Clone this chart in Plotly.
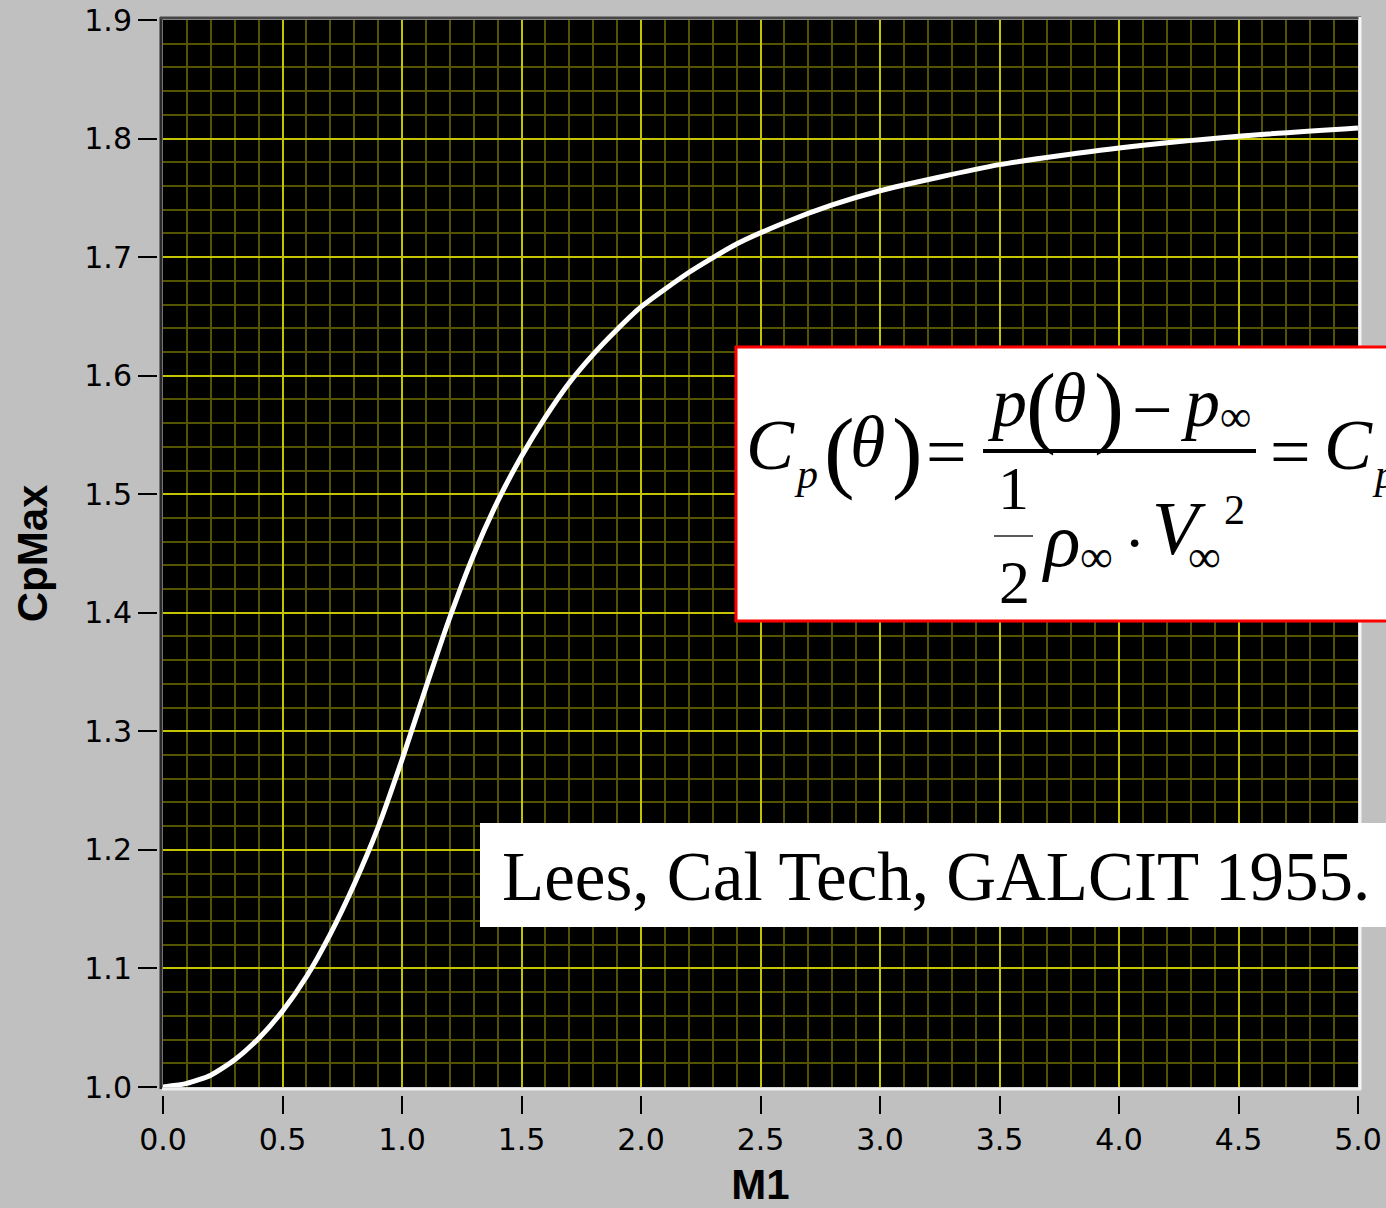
import plotly.graph_objects as go

# Maximum pressure coefficient (stagnation point) vs free-stream Mach number
M1 = [0.0, 0.1, 0.2, 0.3, 0.4, 0.5, 0.6, 0.7, 0.8, 0.9, 1.0,
      1.1, 1.2, 1.3, 1.4, 1.5, 1.6, 1.7, 1.8, 1.9, 2.0,
      2.2, 2.4, 2.6, 2.8, 3.0, 3.5, 4.0, 4.5, 5.0]
CpMax = [1.000, 1.003, 1.010, 1.023, 1.041, 1.064, 1.093, 1.129, 1.171, 1.219, 1.276,
         1.337, 1.396, 1.449, 1.494, 1.532, 1.565, 1.594, 1.618, 1.639, 1.658,
         1.687, 1.711, 1.729, 1.744, 1.756, 1.778, 1.792, 1.802, 1.809]

x_ticks = [0.0, 0.5, 1.0, 1.5, 2.0, 2.5, 3.0, 3.5, 4.0, 4.5, 5.0]
y_ticks = [1.0, 1.1, 1.2, 1.3, 1.4, 1.5, 1.6, 1.7, 1.8, 1.9]
x_title = "M1"
y_title = "CpMax"
credit = "Lees, Cal Tech, GALCIT 1955."

W, H = 1386, 1208


def px(x):
    return x / W


def py(y):
    return 1 - y / H


SERIF = "Liberation Serif, Times New Roman, serif"
MAJOR = "rgb(196,196,0)"
MINOR = "rgb(84,84,0)"

fig = go.Figure()
fig.add_trace(go.Scatter(
    x=M1, y=CpMax, mode="lines",
    line=dict(color="white", width=5, shape="spline", smoothing=0.6),
    hoverinfo="skip", showlegend=False,
))

tick_font = dict(family="DejaVu Sans", size=30, color="black")
title_font = dict(family="Liberation Sans, Arial", size=42, color="black")

fig.update_layout(
    width=W, height=H,
    margin=dict(l=0, r=0, t=0, b=0),
    paper_bgcolor="rgb(192,192,192)",
    plot_bgcolor="black",
    showlegend=False,
    xaxis=dict(
        domain=[px(163), px(1358)],
        range=[0, 5], tickvals=x_ticks, ticktext=[f"{v:.1f}" for v in x_ticks],
        anchor="free", position=py(1095),
        ticks="outside", ticklen=18, tickwidth=2, tickcolor="black",
        tickfont=tick_font, showline=False, zeroline=False,
        showgrid=True, gridcolor=MAJOR, gridwidth=2,
        minor=dict(dtick=0.1, showgrid=True, gridcolor=MINOR, gridwidth=2, ticks=""),
        title=dict(text=f"<b>{x_title}</b>", font=title_font, standoff=18),
        automargin=False, fixedrange=True,
    ),
    yaxis=dict(
        domain=[py(1087), py(20)],
        range=[1.0, 1.9], tickvals=y_ticks, ticktext=[f"{v:.1f}" for v in y_ticks],
        anchor="free", position=px(157),
        ticks="outside", ticklen=19, tickwidth=2, tickcolor="black",
        tickfont=tick_font, showline=False, zeroline=False,
        showgrid=True, gridcolor=MAJOR, gridwidth=2,
        minor=dict(dtick=0.02, showgrid=True, gridcolor=MINOR, gridwidth=2, ticks=""),
        title=dict(text=f"<b>{y_title}</b>", font=title_font, standoff=22),
        automargin=False, fixedrange=True,
    ),
)

shapes = []
# inset frame: dark top/left, light bottom/right
shapes.append(dict(type="line", xref="paper", yref="paper", x0=px(161), x1=px(161),
                   y0=py(17), y1=py(1089), line=dict(color="rgb(40,40,40)", width=3)))
shapes.append(dict(type="line", xref="paper", yref="paper", x0=px(160), x1=px(1361),
                   y0=py(18), y1=py(18), line=dict(color="rgb(70,70,70)", width=3)))
shapes.append(dict(type="line", xref="paper", yref="paper", x0=px(1360), x1=px(1360),
                   y0=py(17), y1=py(1090), line=dict(color="rgb(245,245,245)", width=3)))
shapes.append(dict(type="line", xref="paper", yref="paper", x0=px(162), x1=px(1361),
                   y0=py(1089), y1=py(1089), line=dict(color="rgb(240,240,240)", width=3)))

# formula box
shapes.append(dict(type="rect", xref="paper", yref="paper", x0=px(736), x1=px(1392),
                   y0=py(347), y1=py(621), fillcolor="white",
                   line=dict(color="rgb(255,0,0)", width=3), layer="above"))
# fraction bars
shapes.append(dict(type="line", xref="paper", yref="paper", x0=px(983), x1=px(1256),
                   y0=py(451), y1=py(451), line=dict(color="black", width=4), layer="above"))
shapes.append(dict(type="line", xref="paper", yref="paper", x0=px(994), x1=px(1033),
                   y0=py(536), y1=py(536), line=dict(color="rgb(90,90,90)", width=2), layer="above"))
# credit box
shapes.append(dict(type="rect", xref="paper", yref="paper", x0=px(480), x1=px(1392),
                   y0=py(823), y1=py(927), fillcolor="white",
                   line=dict(width=0), layer="above"))
fig.update_layout(shapes=shapes)


def note(text, x, y, size, xanchor="left", yanchor="middle"):
    fig.add_annotation(text=text, x=px(x), y=py(y), xref="paper", yref="paper",
                       xanchor=xanchor, yanchor=yanchor, showarrow=False,
                       font=dict(family=SERIF, size=size, color="black"))


# C_p(θ) = [p(θ) − p∞] / [½ ρ∞ · V∞²] = C_p ...
note("<i>C</i>", 744, 445, 72)
note("<i>p</i>", 792, 474, 42)
note("(", 822, 450, 92)
note("<i>θ</i>", 848, 442, 72)
note(")", 890, 450, 92)
note("=", 924, 452, 72)
# numerator
note("<i>p</i>", 985, 402, 70)
note("(", 1024, 406, 90)
note("<i>θ</i>", 1050, 398, 70)
note(")", 1092, 406, 90)
note("−", 1130, 410, 72)
note("<i>p</i>", 1178, 402, 70)
note("∞", 1218, 416, 44)
# denominator
note("1", 1013, 488, 62, xanchor="center")
note("2", 1014, 582, 62, xanchor="center")
note("<i>ρ</i>", 1040, 540, 76)
note("∞", 1078, 556, 46)
note("·", 1122, 542, 64)
note("<i>V</i>", 1150, 528, 76)
note("∞", 1186, 556, 46)
note("2", 1222, 510, 42)
# continuation on the right
note("=", 1268, 452, 72)
note("<i>C</i>", 1322, 445, 72)
note("<i>p</i>", 1370, 474, 42)

note(credit, 500, 877, 69)

fig.write_html("out.html")
